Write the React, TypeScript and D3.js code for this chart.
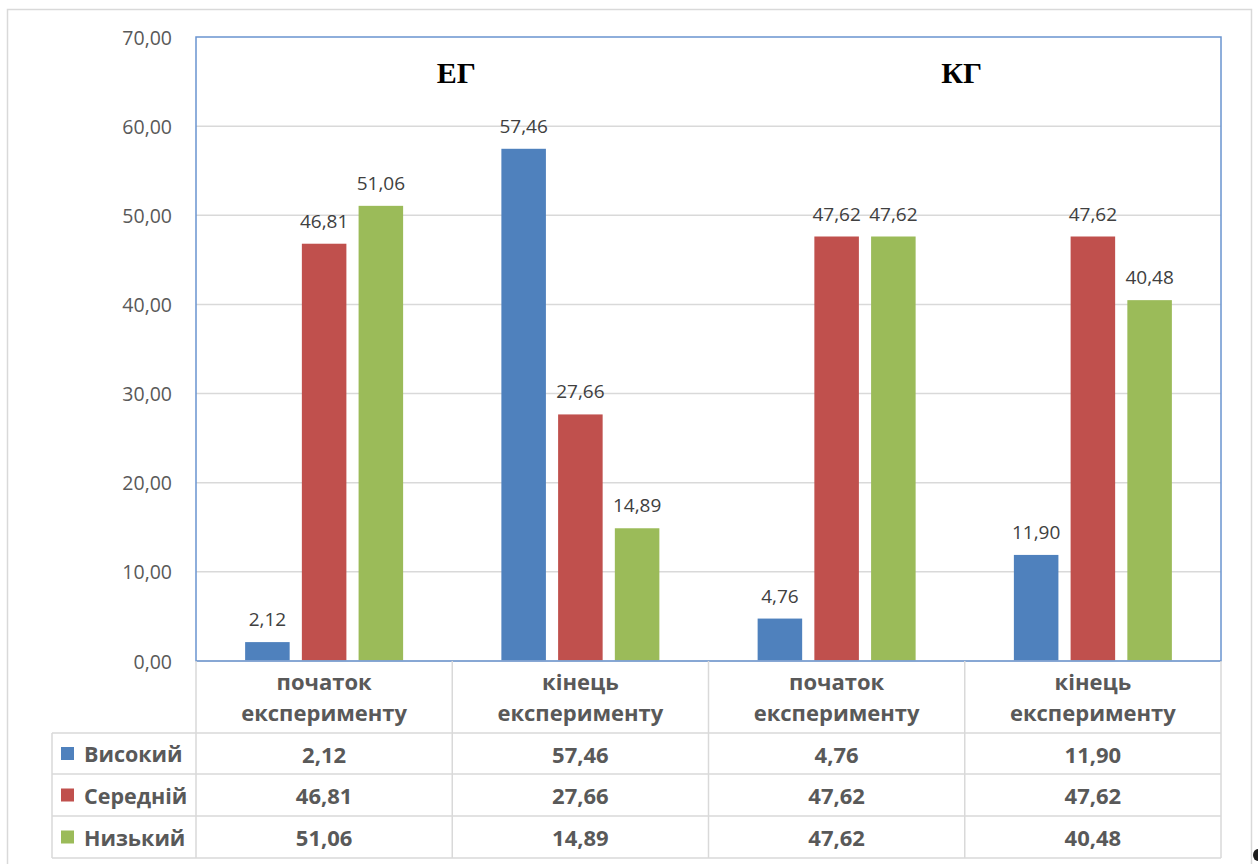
import React from "react";
import * as d3 from "d3";

const categories = ["початок\nексперименту", "кінець\nексперименту", "початок\nексперименту", "кінець\nексперименту"];
const seriesNames = ["Високий", "Середній", "Низький"];
const seriesColors = ["#4F81BD", "#C0504D", "#9BBB59"];
const highValues = [2.12, 57.46, 4.76, 11.9];
const midValues = [46.81, 27.66, 47.62, 47.62];
const lowValues = [51.06, 14.89, 47.62, 40.48];
const yTicks = [0, 10, 20, 30, 40, 50, 60, 70];
const groupTitles = ["ЕГ", "КГ"];

const seriesValues = [highValues, midValues, lowValues];

const W = 1258;
const H = 864;
const plotL = 196;
const plotR = 1221;
const plotT = 37;
const plotB = 661;
const tableL = 52;
const rowLines = [733, 774, 816, 858];

const fmt = (v: number) => d3.format(".2f")(v).replace(".", ",");

export default function App() {
  const y = d3.scaleLinear().domain([0, 70]).range([plotB, plotT]);
  const x = d3
    .scaleBand<number>()
    .domain(categories.map((_, i) => i))
    .range([plotL, plotR])
    .paddingInner(0)
    .paddingOuter(0);
  const bw = x.bandwidth();
  const xs = d3
    .scaleBand<number>()
    .domain(seriesNames.map((_, i) => i))
    .range([0, bw])
    .paddingInner(0.215)
    .paddingOuter(0.866);

  const sans = "'Open Sans', 'Noto Sans', sans-serif";
  const gridColor = "#D9D9D9";
  const colEdges = [plotL, ...categories.map((_, i) => (x(i) as number) + bw)];
  const titleOffsets = [4, -3];

  return (
    <div style={{ position: "absolute", left: 0, top: 0 }}>
      <svg width={W} height={H} style={{ display: "block", background: "#fff" }}>
        {/* outer chart border */}
        <rect x={7.5} y={9.5} width={1244} height={870} fill="none" stroke={gridColor} strokeWidth={1.5} />

        {/* gridlines */}
        {yTicks.slice(1, -1).map((t) => (
          <line key={t} x1={plotL} x2={plotR} y1={y(t)} y2={y(t)} stroke={gridColor} strokeWidth={1.5} />
        ))}

        {/* tick labels */}
        {yTicks.map((t) => (
          <text
            key={t}
            x={172}
            y={y(t)}
            textAnchor="end"
            dominantBaseline="central"
            fontFamily={sans}
            fontSize={19.5}
            fill="#595959"
          >
            {fmt(t)}
          </text>
        ))}

        {/* bars */}
        {seriesValues.map((vals, si) =>
          vals.map((v, ci) => {
            const bx = (x(ci) as number) + (xs(si) as number);
            return (
              <g key={`${si}-${ci}`}>
                <rect x={bx} y={y(v)} width={xs.bandwidth()} height={plotB - y(v)} fill={seriesColors[si]} />
                <text
                  x={bx + xs.bandwidth() / 2}
                  y={y(v) - 16}
                  textAnchor="middle"
                  fontFamily={sans}
                  fontSize={19}
                  fill="#404040"
                >
                  {fmt(v)}
                </text>
              </g>
            );
          })
        )}

        {/* group titles */}
        {groupTitles.map((g, gi) => (
          <text
            key={g}
            x={(x(gi * 2) as number) + bw + titleOffsets[gi]}
            y={83}
            textAnchor="middle"
            fontFamily="'Liberation Serif', 'Times New Roman', serif"
            fontWeight="bold"
            fontSize={30}
            fill="#000"
          >
            {g}
          </text>
        ))}

        {/* plot area border */}
        <line x1={plotL} x2={plotR} y1={plotB} y2={plotB} stroke={gridColor} strokeWidth={1.5} />
        <rect x={plotL} y={plotT} width={plotR - plotL} height={plotB - plotT} fill="none" stroke="#6A94CF" strokeWidth={1.5} />

        {/* data table lines */}
        {rowLines.map((ry) => (
          <line key={ry} x1={tableL} x2={plotR} y1={ry} y2={ry} stroke={gridColor} strokeWidth={1.5} />
        ))}
        <line x1={tableL} x2={tableL} y1={rowLines[0]} y2={rowLines[3]} stroke={gridColor} strokeWidth={1.5} />
        {colEdges.map((cx, i) => (
          <line key={i} x1={cx} x2={cx} y1={plotB} y2={rowLines[3]} stroke={gridColor} strokeWidth={1.5} />
        ))}

        {/* category headers */}
        {categories.map((c, ci) => {
          const cx = (x(ci) as number) + bw / 2;
          const lines = c.split("\n");
          return (
            <text
              key={ci}
              textAnchor="middle"
              fontFamily={sans}
              fontWeight="bold"
              fontSize={22}
              fill="#595959"
            >
              {lines.map((l, li) => (
                <tspan key={li} x={cx} y={690 + li * 31}>
                  {l}
                </tspan>
              ))}
            </text>
          );
        })}

        {/* table rows */}
        {seriesNames.map((s, si) => {
          const cy = (rowLines[si] + rowLines[si + 1]) / 2;
          return (
            <g key={s}>
              <rect x={61} y={cy - 6.5} width={13} height={13} fill={seriesColors[si]} />
              <text
                x={84}
                y={cy}
                dominantBaseline="central"
                fontFamily={sans}
                fontWeight="bold"
                fontSize={21.5}
                fill="#595959"
              >
                {s}
              </text>
              {seriesValues[si].map((v, ci) => (
                <text
                  key={ci}
                  x={(x(ci) as number) + bw / 2}
                  y={cy}
                  textAnchor="middle"
                  dominantBaseline="central"
                  fontFamily={sans}
                  fontWeight="bold"
                  fontSize={22}
                  fill="#595959"
                >
                  {fmt(v)}
                </text>
              ))}
            </g>
          );
        })}

        {/* stray dark mark clipped at the right edge (as in the reference) */}
        <ellipse cx={1258} cy={855} rx={5} ry={6} fill="#1a1a1a" />
      </svg>
    </div>
  );
}
